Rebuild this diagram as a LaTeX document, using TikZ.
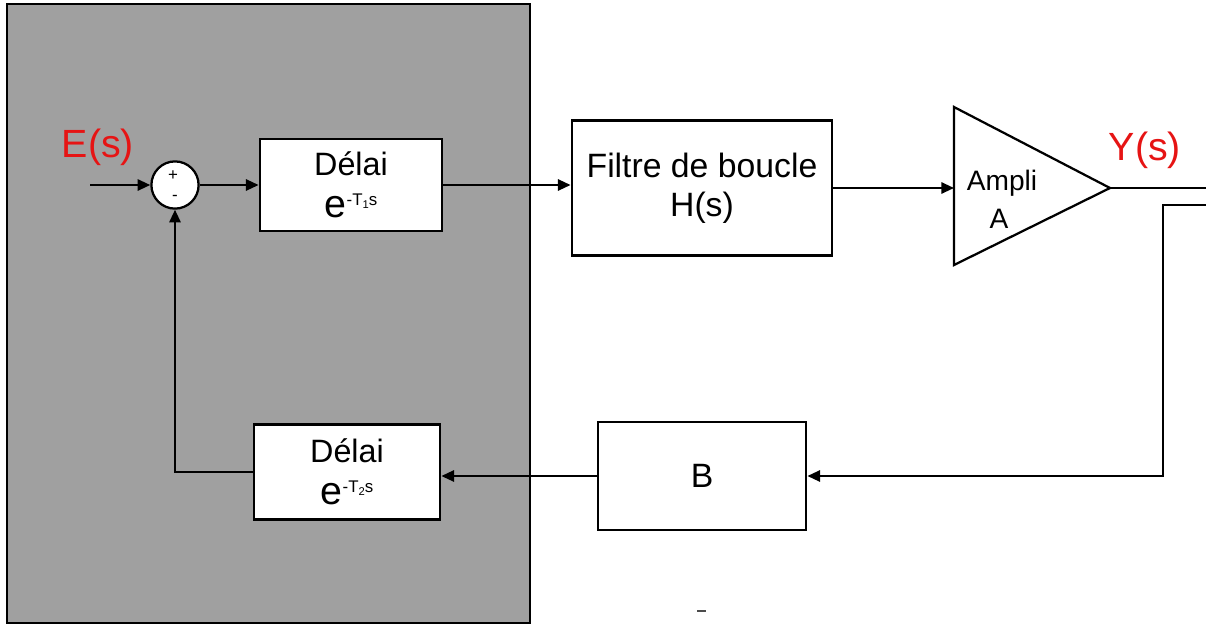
\documentclass[tikz,border=0pt]{standalone}
\usepackage{fontspec}
\setmainfont{Liberation Sans}
\usepackage{xcolor}
\usepackage{tikz}
\usetikzlibrary{arrows.meta,positioning,calc}
\definecolor{mygray}{RGB}{160,160,160}
\definecolor{myred}{RGB}{230,20,20}
\newcommand{\expdelay}[1]{\fontsize{28}{28}\selectfont e\raisebox{9pt}{\fontsize{12}{12}\selectfont -T\raisebox{-2.5pt}{\fontsize{8}{8}\selectfont #1}s}}
\tikzset{
  blockbox/.style={draw=black, line width=2pt, fill=white, align=center, inner sep=0pt},
  sumnode/.style={circle, draw=black, line width=1.6pt, fill=white, minimum size=1.18cm, inner sep=0pt},
  conn/.style={line width=1.5pt, -{Triangle[length=9pt,width=8pt]}},
  sig/.style={text=myred, font=\fontsize{28}{28}\selectfont, anchor=base}
}
\begin{document}
\begin{tikzpicture}[x=0.025cm, y=-0.025cm, font=\fontsize{23}{30}\selectfont]
  \useasboundingbox (0,0) rectangle (1206,626);
  % Delay zone
  \fill[mygray] (7,4) rectangle (530,623);
  \draw[black, line width=1pt] (7,4) rectangle (530,623);
  % Blocks
  \node[sumnode] (sum) at (175,185) {};
  \node[font=\fontsize{12}{12}\selectfont] (plus) at (173,176) {+};
  \node[font=\fontsize{12}{12}\selectfont] (minus) at (175,198) {-};
  \node[blockbox, minimum width=4.55cm, minimum height=2.3cm] (d1) at (351,185) {Délai\\\expdelay{1}};
  \node[blockbox, minimum width=6.5cm, minimum height=3.375cm, font=\fontsize{24}{28}\selectfont] (filt) at (702,188) {Filtre de boucle\\H(s)};
  \node[blockbox, minimum width=4.65cm, minimum height=2.375cm] (d2) at (347,472) {Délai\\\expdelay{2}};
  \node[blockbox, minimum width=5.2cm, minimum height=2.7cm, font=\fontsize{24}{28}\selectfont] (bblk) at (702,476) {B};
  % Amplifier
  \coordinate (ampin) at (954,188);
  \coordinate (ampout) at (1110,188);
  \draw[line width=1.6pt, line join=miter] (954,107) -- (ampout) -- (954,265) -- cycle;
  \node[font=\fontsize{20}{20}\selectfont, anchor=base] (ampli) at (1002,190) {Ampli};
  \node[font=\fontsize{20}{20}\selectfont, anchor=base] (gain) at (999,228) {A};
  % Signals
  \node[sig] (es) at (98,157) {E(s)};
  \node[sig] (ys) at (1145,160) {Y(s)};
  \coordinate (ein) at (90,185);
  \coordinate (yout) at (1206,188);
  \coordinate (fbin) at (1206,205);
  \coordinate (fbcorner) at (1163,205);
  % Connectors
  \draw[conn] (ein) -- (sum.west);
  \draw[conn] (sum.east) -- (d1.west);
  \draw[conn] (d1.east) -- (d1.east -| filt.west);
  \draw[conn] (filt.east) -- (filt.east -| ampin);
  \draw[line width=1.5pt] (ampout) -- (yout);
  \draw[conn] (fbin) -- (fbcorner) |- (bblk.east);
  \draw[conn] (bblk.west) -- (bblk.west -| d2.east);
  \draw[conn] (d2.west) -| (sum.south);
  % Mark
  \draw[black!70, line width=0.8pt] (697,611) -- (706,611);
\end{tikzpicture}
\end{document}
